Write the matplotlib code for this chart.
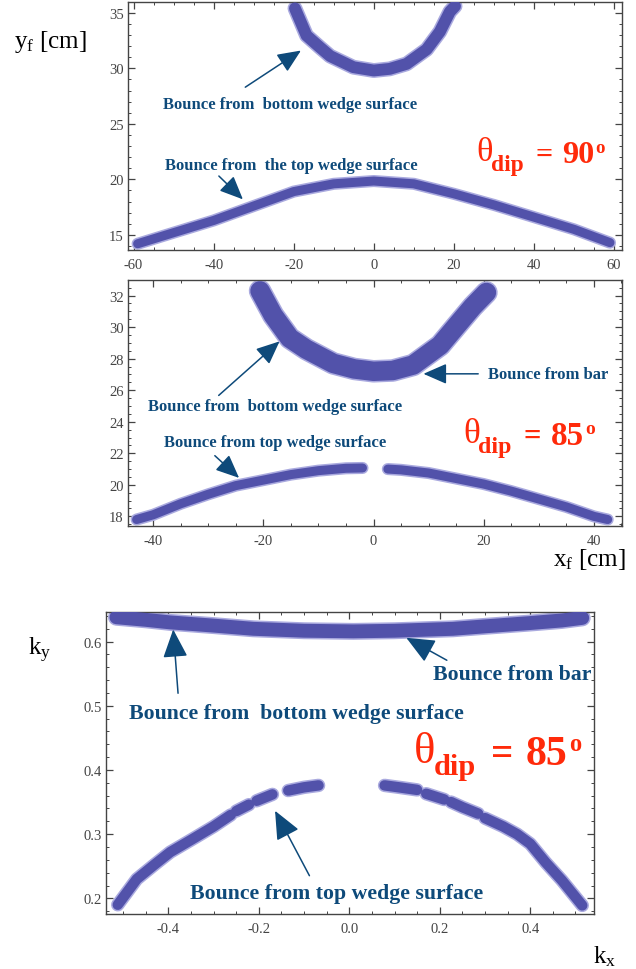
import matplotlib
matplotlib.use('Agg')
import matplotlib.pyplot as plt
from matplotlib.ticker import MultipleLocator

plt.rcParams['font.family'] = ['Liberation Serif', 'DejaVu Serif']
plt.rcParams['axes.unicode_minus'] = False
plt.rcParams['mathtext.fontset'] = 'custom'
plt.rcParams['mathtext.rm'] = 'Liberation Serif'
plt.rcParams['mathtext.it'] = 'Liberation Serif:italic'
plt.rcParams['mathtext.bf'] = 'Liberation Serif:bold'

# ---- data (band centre lines) ----
# panel 1: theta_dip = 90, x_f / y_f in cm
p1_top_x = [-59, -50, -40, -30, -20, -10, 0, 10, 20, 30, 40, 50, 59]
p1_top_y = [14.2, 15.2, 16.3, 17.6, 18.9, 19.6, 19.85, 19.6, 18.7, 17.7, 16.6, 15.5, 14.3]
p1_bot_x = [-19.7, -16.8, -13.5, -10.9, -5.1, 0, 4, 8.2, 13.2, 16.5, 19.0, 20.3]
p1_bot_y = [35.4, 32.95, 31.9, 31.1, 30.1, 29.8, 29.95, 30.4, 31.7, 33.3, 35.1, 35.6]

# panel 2: theta_dip = 85, x_f / y_f in cm
p2_top_left_x = [-43, -40, -35, -30, -25, -20, -15, -10, -5, -2]
p2_top_left_y = [17.8, 18.1, 18.8, 19.4, 19.95, 20.3, 20.65, 20.9, 21.05, 21.07]
p2_top_right_x = [2.6, 5, 10, 15, 20, 25, 30, 35, 40, 42.5]
p2_top_right_y = [21.0, 20.95, 20.75, 20.4, 20.05, 19.6, 19.1, 18.6, 18.0, 17.8]
p2_bot_x = [-20.6, -18.2, -15.2, -12.2, -7.3, -3.5, 0, 3.5, 7.2, 12.1, 15.1, 18, 20.5]
p2_bot_y = [32.3, 30.75, 29.3, 28.6, 27.7, 27.35, 27.2, 27.25, 27.6, 28.85, 30.1, 31.3, 32.2]

# panel 3: theta_dip = 85, kx / ky
p3_bar_x = [-0.515, -0.45, -0.396, -0.3, -0.212, -0.1, 0.009, 0.1, 0.229, 0.303, 0.4, 0.47, 0.515]
p3_bar_y = [0.638, 0.634, 0.630, 0.625, 0.620, 0.617, 0.616, 0.617, 0.620, 0.624, 0.629, 0.633, 0.637]
p3_arc_segments = [
    ([-0.512, -0.47, -0.43, -0.396, -0.35, -0.30, -0.262], [0.190, 0.230, 0.253, 0.272, 0.291, 0.312, 0.330]),
    ([-0.25, -0.222], [0.336, 0.346]),
    ([-0.205, -0.17], [0.352, 0.362]),
    ([-0.135, -0.10, -0.068], [0.368, 0.373, 0.376]),
    ([0.078, 0.11, 0.15], [0.376, 0.373, 0.369]),
    ([0.17, 0.21], [0.363, 0.354]),
    ([0.225, 0.25, 0.285], [0.350, 0.342, 0.332]),
    ([0.30, 0.34, 0.371, 0.40, 0.434, 0.47, 0.515], [0.325, 0.312, 0.300, 0.285, 0.256, 0.228, 0.189]),
]

DOT = '#5252aa'
HALO = '#aaaadf'
NAVY = '#0e4a7a'
RED = '#ff2a0a'

W, H = 636, 970


def band(ax, xs, ys, lw):
    """画带状散点区域"""
    ax.plot(xs, ys, color=HALO, lw=lw + 2.2, solid_capstyle='round', solid_joinstyle='round', zorder=2)
    ax.plot(xs, ys, color=DOT, lw=lw, solid_capstyle='round', solid_joinstyle='round', zorder=3)


def frame(ax, xmaj, xmin, ymaj, ymin):
    ax.xaxis.set_major_locator(MultipleLocator(xmaj))
    ax.xaxis.set_minor_locator(MultipleLocator(xmin))
    ax.yaxis.set_major_locator(MultipleLocator(ymaj))
    ax.yaxis.set_minor_locator(MultipleLocator(ymin))
    ax.tick_params(which='both', direction='in', top=True, right=True, color='#444444',
                   labelsize=10.5, labelcolor='#444444')
    ax.tick_params(axis='x', pad=6)
    ax.tick_params(axis='y', pad=3)
    ax.tick_params(which='major', length=5, width=0.9)
    ax.tick_params(which='minor', length=2.5, width=0.7)
    for s in ax.spines.values():
        s.set_color('#444444')
        s.set_linewidth(1.0)


def note(ax, text, x, y, size):
    ax.text(x, y, text, color=NAVY, fontsize=size, fontweight='bold', va='center', ha='left', zorder=5)


def arrow(ax, tail, head, scale=18):
    ax.annotate('', xy=head, xytext=tail,
                arrowprops=dict(arrowstyle='-|>,head_length=0.8,head_width=0.35', color=NAVY,
                                lw=1.1, mutation_scale=scale, shrinkA=0, shrinkB=0), zorder=5)


def theta(ax, x0, base, angle, s):
    """θ_dip = NN° 标签, 各部分依次接在前一部分右侧 (图像像素坐标)"""
    yb = H - base  # figure pixels from bottom
    first = ax.annotate('θ', xy=(x0, yb + 2 * s), xycoords='figure pixels', color=RED,
                        fontsize=31 * s, ha='left', va='baseline', annotation_clip=False)
    # (text, gap px, baseline shift px, size, weight)
    parts = [('dip', -2, -10, 21, 'bold'),
             ('=', 15, 0, 27, 'bold'),
             (angle, 12, 0, 29, 'bold'),
             ('o', 1, 13, 17, 'bold')]
    prev = first
    for txt, gap, dy, size, weight in parts:
        prev = ax.annotate(txt, xy=(1, yb + dy * s), xycoords=(prev, 'figure pixels'),
                           xytext=(gap * s * 0.72, 0), textcoords='offset points', color=RED,
                           fontsize=size * s, fontweight=weight, ha='left', va='baseline',
                           annotation_clip=False)


def add_axes(left, top, right, bottom):
    return fig.add_axes([left / W, 1 - bottom / H, (right - left) / W, (bottom - top) / H])


fig = plt.figure(figsize=(W / 100, H / 100), dpi=100)

# ---- panel 1 ----
ax1 = add_axes(128, 3, 622, 251)
band(ax1, p1_top_x, p1_top_y, 6.5)
band(ax1, p1_bot_x, p1_bot_y, 8.5)
ax1.set_xlim(-61.4, 62)
ax1.set_ylim(13.64, 35.97)
frame(ax1, 20, 5, 5, 1)
note(ax1, 'Bounce from  bottom wedge surface', -52.7, 26.8, 12)
arrow(ax1, (-32.1, 28.3), (-18.2, 31.6))
note(ax1, 'Bounce from  the top wedge surface', -52.1, 21.3, 12)
arrow(ax1, (-38.7, 20.3), (-32.7, 18.2))

# ---- panel 2 ----
ax2 = add_axes(128, 281, 622, 527)
band(ax2, p2_top_left_x, p2_top_left_y, 6.5)
band(ax2, p2_top_right_x, p2_top_right_y, 6.5)
band(ax2, p2_bot_x, p2_bot_y, 14)
ax2.set_xlim(-44.56, 45.1)
ax2.set_ylim(17.39, 32.99)
frame(ax2, 20, 5, 2, 0.5)
note(ax2, 'Bounce from bar', 20.8, 27.0, 12)
arrow(ax2, (19.0, 27.04), (9.06, 27.04))
note(ax2, 'Bounce from  bottom wedge surface', -40.96, 25.0, 12)
arrow(ax2, (-28.1, 25.67), (-17.05, 29.1))
note(ax2, 'Bounce from top wedge surface', -38.0, 22.69, 12)
arrow(ax2, (-28.8, 21.85), (-24.4, 20.44))

# ---- panel 3 ----
ax3 = add_axes(106, 613, 594, 915)
band(ax3, p3_bar_x, p3_bar_y, 10)
for sx, sy in p3_arc_segments:
    band(ax3, sx, sy, 7.5)
ax3.set_xlim(-0.538, 0.541)
ax3.set_ylim(0.1756, 0.6462)
frame(ax3, 0.2, 0.05, 0.1, 0.02)
ax3.xaxis.set_major_formatter(lambda v, p: f'{v:.1f}')
note(ax3, 'Bounce from bar', 0.1844, 0.549, 15.7)
arrow(ax3, (0.2156, 0.571), (0.126, 0.606), 22)
note(ax3, 'Bounce from  bottom wedge surface', -0.4877, 0.4885, 15.7)
arrow(ax3, (-0.3787, 0.5196), (-0.3894, 0.619), 22)
note(ax3, 'Bounce from top wedge surface', -0.3518, 0.2083, 15.7)
arrow(ax3, (-0.0882, 0.2353), (-0.1642, 0.3364), 22)

# ---- θ_dip labels ----
theta(ax1, 476, 163, '90', 0.8)
theta(ax2, 463, 445, '85', 0.82)
theta(ax3, 414, 765, '85', 1.04)

# ---- axis labels as figure text ----
fig.text(14 / W, 1 - 42 / H, 'y$_{\\mathrm{f}}$ [cm]', fontsize=18, va='center', ha='left')
fig.text(553 / W, 1 - 560 / H, 'x$_{\\mathrm{f}}$ [cm]', fontsize=18, va='center', ha='left')
fig.text(28 / W, 1 - 650 / H, 'k$_{\\mathrm{y}}$', fontsize=18, va='center', ha='left')
fig.text(593 / W, 1 - 957 / H, 'k$_{\\mathrm{x}}$', fontsize=18, va='center', ha='left')

fig.savefig('out.png', dpi=100)
